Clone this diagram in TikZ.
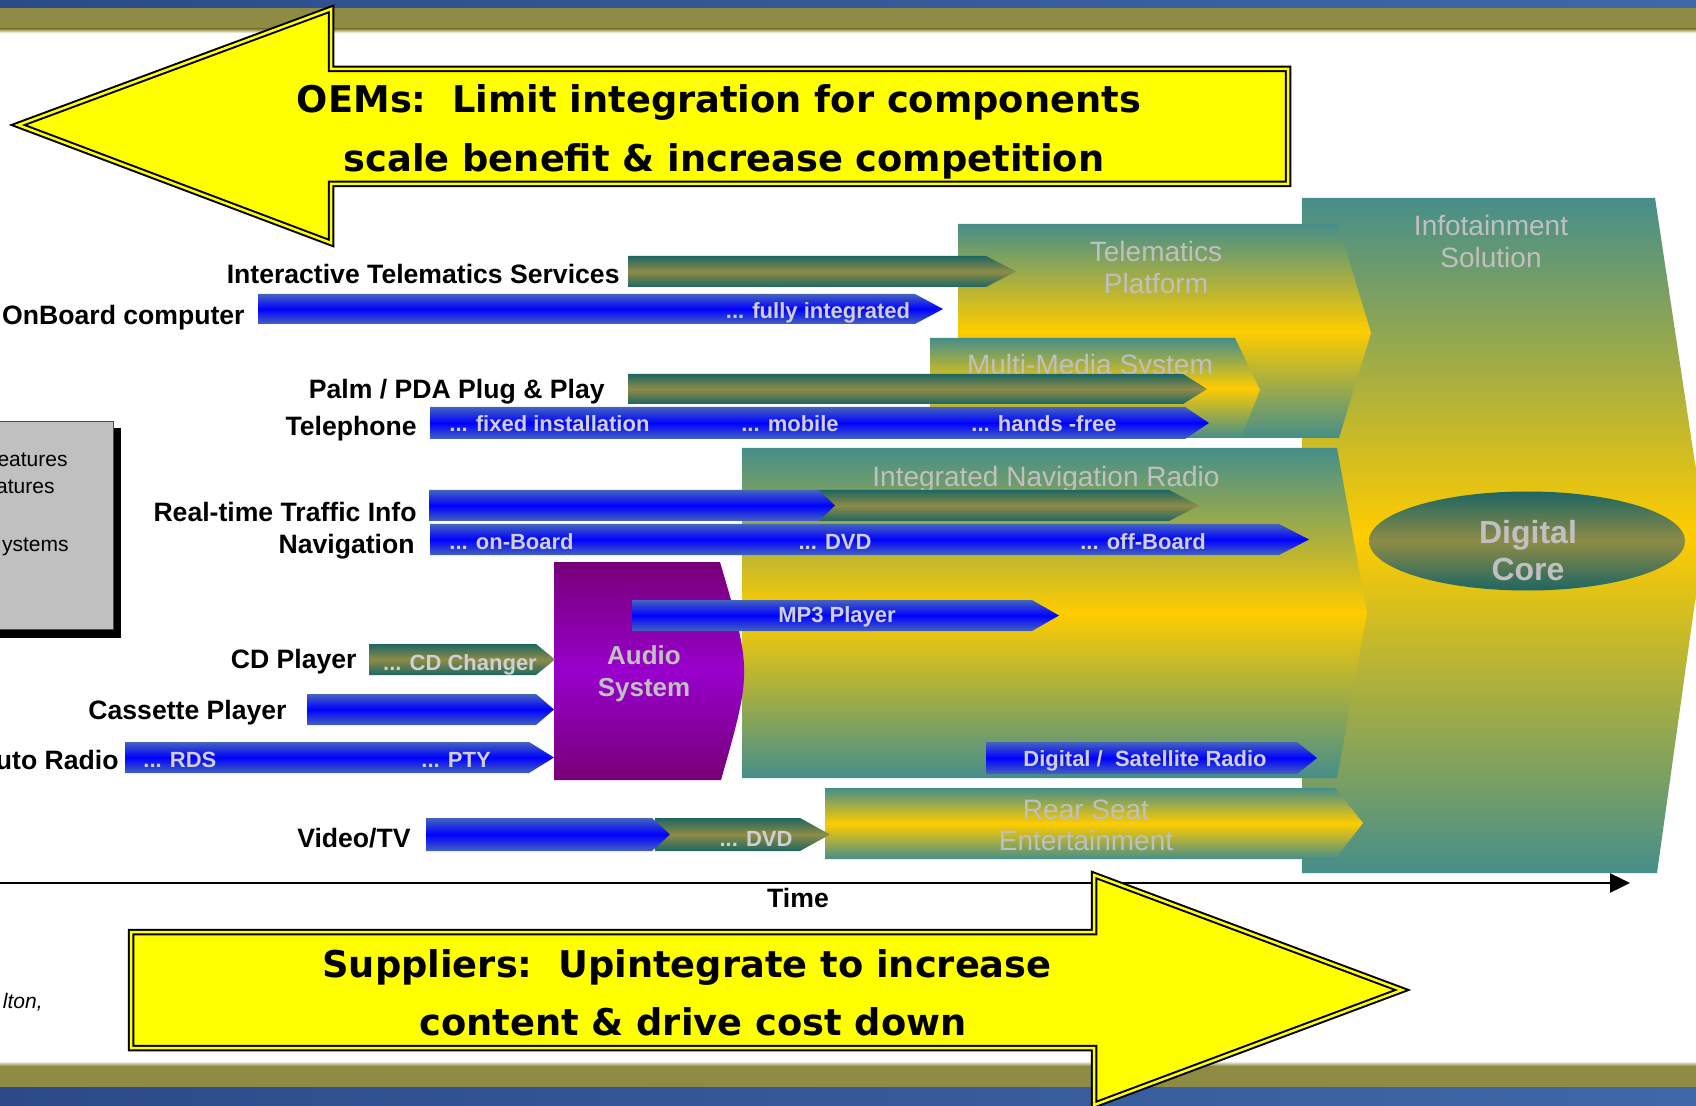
\documentclass[tikz,border=0pt]{standalone}
\usepackage{fontspec}
\setmainfont{Liberation Sans}
\newfontfamily\signfont{DejaVu Sans}
\usetikzlibrary{arrows.meta,shapes.geometric}

\definecolor{tealbg}{RGB}{70,142,138}
\definecolor{goldbg}{RGB}{255,204,0}
\definecolor{barblue}{RGB}{0,0,255}
\definecolor{baredge}{RGB}{68,100,190}
\definecolor{oliveC}{RGB}{142,139,69}
\definecolor{tealdark}{RGB}{30,102,98}
\definecolor{purpleE}{RGB}{119,0,119}
\definecolor{purpleM}{RGB}{153,0,204}
\definecolor{labelgray}{RGB}{192,192,192}
\definecolor{bartxt}{RGB}{208,208,208}
\definecolor{bandblue}{RGB}{44,74,136}
\definecolor{bandblueR}{RGB}{64,104,168}
\definecolor{boxgray}{RGB}{192,192,192}
\definecolor{signyellow}{RGB}{255,255,0}

% horizontal bar with a pointed right end:
% style, left x, tip x, top y, bottom y, head length
\newcommand\segbar[6]{%
  \path[#1] (#2,#4) -- ({#3-#6},#4) -- (#3,{(#4+#5)/2}) -- ({#3-#6},#5) -- (#2,#5) -- cycle;}

\begin{document}
\begin{tikzpicture}[x=0.5pt,y=-0.5pt,
  areagrad/.style={top color=tealbg, bottom color=tealbg, middle color=goldbg},
  bluebar/.style={top color=baredge, bottom color=baredge, middle color=barblue},
  olivebar/.style={top color=tealdark, bottom color=tealdark, middle color=oliveC},
  audiograd/.style={top color=purpleE, bottom color=purpleE, middle color=purpleM},
  label/.style={font=\fontsize{13.3}{16}\selectfont\bfseries, anchor=base east, inner sep=0},
  bartext/.style={font=\fontsize{11}{13}\selectfont\bfseries, text=bartxt, anchor=base, inner sep=0},
  areatext/.style={font=\fontsize{14}{17}\selectfont, text=labelgray, anchor=base, inner sep=0},
  boldarea/.style={font=\fontsize{13}{16}\selectfont\bfseries, text=labelgray, anchor=base, inner sep=0},
  boxtext/.style={font=\fontsize{10.5}{12}\selectfont, anchor=base east, inner sep=0},
  signtext/.style={font=\signfont\bfseries\fontsize{18.4}{22}\selectfont, anchor=base, inner sep=0},
  sign/.style={fill=signyellow, draw=black, double=signyellow, line width=1pt, double distance=1.25pt}]

\useasboundingbox (0,0) rectangle (1696,1106);
\clip (0,0) rectangle (1696,1106);
\fill[white] (0,0) rectangle (1696,1106);

% title and footer bands
\shade[left color=bandblue, right color=bandblueR] (0,0) rectangle (1696,8);
\fill[oliveC] (0,8) rectangle (1696,29);
\shade[top color=oliveC, bottom color=white] (0,29) rectangle (1696,33);
\shade[top color=white, bottom color=oliveC] (0,1061) rectangle (1696,1066);
\fill[oliveC] (0,1066) rectangle (1696,1087);
\shade[left color=bandblue, right color=bandblueR] (0,1087) rectangle (1696,1106);

% grey side box with shadow
\fill[black] (-5,428) rectangle (121,638);
\filldraw[fill=boxgray, draw=black!70, line width=0.5pt] (-5,422) rectangle (113,629);
\node[boxtext] (bx1) at (68,467) {eatures};
\node[boxtext] (bx2) at (55,494) {atures};
\node[boxtext] (bx3) at (69,552) {ystems};
\node[boxtext, font=\fontsize{10.5}{12}\selectfont\itshape] (src) at (43,1008) {lton,};

% integration stages
\path[areagrad] (1302,198) -- (1655,198) -- (1705,530) -- (1657,873) -- (1302,873) -- cycle;
\path[areagrad] (958,224) -- (1338,224) -- (1371,333) -- (1339,438) -- (958,438) -- cycle;
\path[areagrad] (930,338) -- (1235,338) -- (1260,390) -- (1241,438) -- (930,438) -- cycle;
\path[areagrad] (742,448) -- (1337,448) -- (1367,613) -- (1337,778) -- (742,778) -- cycle;
\path[areagrad] (825,788) -- (1335,788) -- (1363,823) -- (1335,859) -- (825,859) -- cycle;
\path[audiograd] (554,562) -- (720,562) .. controls (752,671) .. (721,780) -- (554,780) -- cycle;
\node[ellipse, minimum width=158pt, minimum height=49.5pt, inner sep=0,
      top color=tealdark, bottom color=tealdark, middle color=oliveC] (core) at (1527,541) {};

\node[areatext] (info1) at (1491,236) {Infotainment};
\node[areatext] (info2) at (1491,268) {Solution};
\node[areatext] (tel1) at (1156,262) {Telematics};
\node[areatext] (tel2) at (1156,294) {Platform};
\node[areatext] (mms) at (1090,375) {Multi-Media System};
\node[areatext] (inr) at (1046,487) {Integrated Navigation Radio};
\node[areatext] (rse1) at (1086,819) {Rear Seat};
\node[areatext] (rse2) at (1086,850) {Entertainment};
\node[boldarea] (aud1) at (644,664) {Audio};
\node[boldarea] (aud2) at (644,696) {System};
\node[boldarea, font=\fontsize{16}{19}\selectfont\bfseries] (dc1) at (1528,544) {Digital};
\node[boldarea, font=\fontsize{16}{19}\selectfont\bfseries] (dc2) at (1528,581) {Core};

% feature bars
\segbar{olivebar}{628}{1016}{256}{287}{30}
\segbar{bluebar}{258}{943}{294}{324}{28}
\segbar{olivebar}{628}{1207}{374}{404}{24}
\segbar{bluebar}{430}{1209}{407}{439}{24}
\segbar{olivebar}{815}{1199}{490}{521}{30}
\segbar{bluebar}{429}{835}{490}{521}{16}
\segbar{bluebar}{430}{1309}{524}{555}{30}
\segbar{bluebar}{632}{1059}{600}{631}{27}
\segbar{olivebar}{369}{555}{644}{675}{19}
\segbar{bluebar}{307}{554}{694}{725}{18}
\segbar{bluebar}{125}{554}{742}{773}{25}
\segbar{bluebar}{986}{1317}{742}{774}{20}
\segbar{olivebar}{655}{830}{818}{851}{30}
\segbar{bluebar}{426}{670}{818}{851}{18}

\node[bartext] (t1) at (818,319) {... fully integrated};
\node[bartext, anchor=base west] (t2) at (449,432) {... fixed installation};
\node[bartext] (t3) at (790,432) {... mobile};
\node[bartext] (t4) at (1044,432) {... hands -free};
\node[bartext, anchor=base west] (t5) at (449,549) {... on-Board};
\node[bartext] (t6) at (835,549) {... DVD};
\node[bartext] (t7) at (1143,549) {... off-Board};
\node[bartext] (t8) at (837,622) {MP3 Player};
\node[bartext] (t9) at (460,670) {... CD Changer};
\node[bartext, anchor=base west] (t10) at (143,767) {... RDS};
\node[bartext, anchor=base west] (t11) at (421,767) {... PTY};
\node[bartext] (t12) at (1145,766) {Digital /\ \ Satellite Radio};
\node[bartext] (t13) at (756,846) {... DVD};

% row labels
\node[label] (l1) at (620,283.5) {Interactive Telematics Services};
\node[label] (l2) at (245,324.5) {OnBoard computer};
\node[label] (l3) at (605,398.5) {Palm / PDA Plug \& Play};
\node[label] (l4) at (417,435.5) {Telephone};
\node[label] (l5) at (417,521.5) {Real-time Traffic Info};
\node[label] (l6) at (415,553.5) {Navigation};
\node[label] (l7) at (357,668.5) {CD Player};
\node[label] (l8) at (287,719.5) {Cassette Player};
\node[label] (l9) at (119,769.5) {Auto Radio};
\node[label] (l10) at (411,847.5) {Video/TV};

% time axis
\coordinate (t0) at (-5,883);
\coordinate (tend) at (1630,883);
\draw[line width=1.2pt, -{Triangle[length=10pt, width=9.5pt]}] (t0) -- (tend);
\node[label, anchor=base] (time) at (798,907.5) {Time};

% OEM arrow pointing left
\path[sign] (18,125) -- (331,9) -- (331,69) -- (1288,69) -- (1288,184) -- (331,184) -- (331,243) -- cycle;
\node[signtext] (oem1) at (719,113) {OEMs:\ \ Limit integration for components};
\node[signtext] (oem2) at (724,172) {scale benefit \& increase competition};

% supplier arrow pointing right
\path[sign] (131,932) -- (1094,932) -- (1094,875) -- (1402,990) -- (1094,1105) -- (1094,1048) -- (131,1048) -- cycle;
\node[signtext] (sup1) at (687,977) {Suppliers:\ \ Upintegrate to increase};
\node[signtext] (sup2) at (693,1035) {content \& drive cost down};

\end{tikzpicture}
\end{document}
